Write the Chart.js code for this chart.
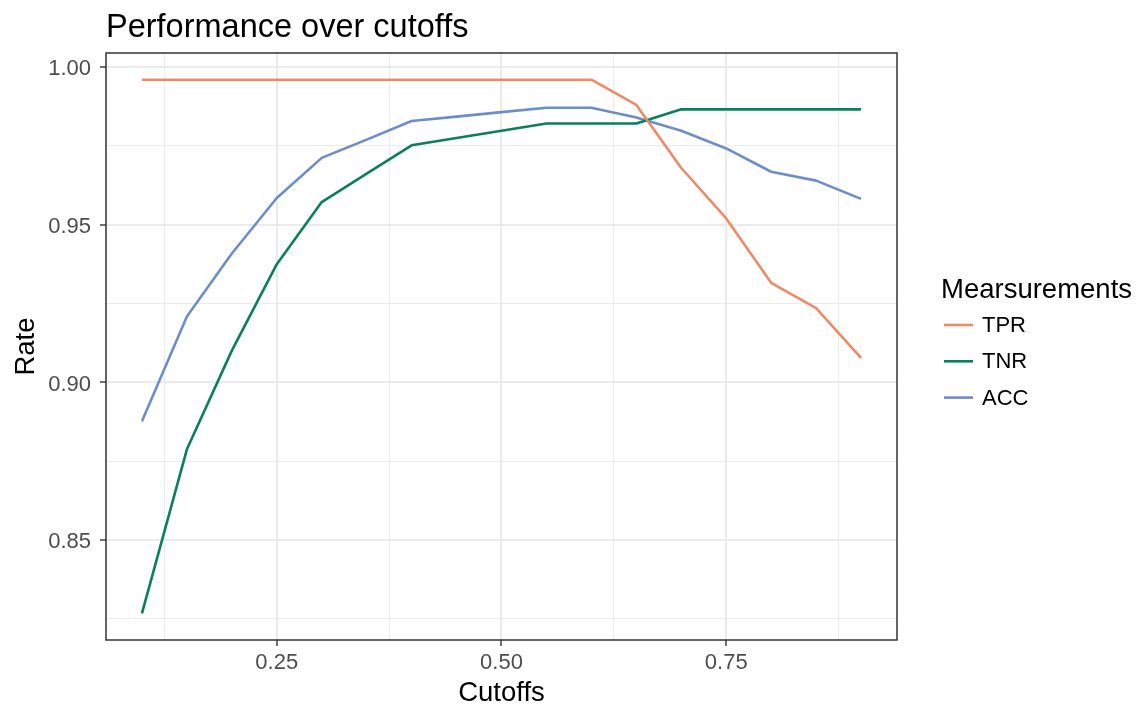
<!DOCTYPE html>
<html>
<head>
<meta charset="utf-8">
<title>Performance over cutoffs</title>
<script src="https://cdn.jsdelivr.net/npm/chart.js@4/dist/chart.umd.min.js"></script>
<style>
  html, body { margin: 0; padding: 0; background: #ffffff; }
  #wrap { width: 1142px; height: 708px; position: relative; }
  canvas { display: block; }
</style>
</head>
<body>
<div id="wrap"><canvas id="chart" width="1142" height="708"></canvas></div>
<script>
// Classification cutoffs and the three rates measured at each one
const cutoffs = [0.10, 0.15, 0.20, 0.25, 0.30, 0.35, 0.40, 0.45, 0.50, 0.55, 0.60, 0.65, 0.70, 0.75, 0.80, 0.85, 0.90];
const tpr = [0.996, 0.996, 0.996, 0.996, 0.996, 0.996, 0.996, 0.996, 0.996, 0.996, 0.996, 0.988, 0.968, 0.952, 0.9316, 0.9236, 0.9078];
const tnr = [0.8268, 0.8788, 0.9101, 0.9375, 0.9572, 0.9662, 0.9752, 0.9775, 0.9798, 0.9821, 0.9821, 0.9821, 0.9866, 0.9866, 0.9866, 0.9866, 0.9866];
const acc = [0.8877, 0.9209, 0.9409, 0.9585, 0.9712, 0.9770, 0.9829, 0.9843, 0.9857, 0.9871, 0.9871, 0.9840, 0.9798, 0.9742, 0.9668, 0.9640, 0.9582];

const seriesNames = ['TPR', 'TNR', 'ACC'];
const seriesColors = ['#EF8A66', '#0A7F5C', '#6B8ECB'];

// Axis breaks: labelled major breaks plus unlabelled minor breaks halfway between
const xMajor = [0.25, 0.50, 0.75];
const xMinor = [0.125, 0.375, 0.625, 0.875];
const yMajor = [0.85, 0.90, 0.95, 1.00];
const yMinor = [0.825, 0.875, 0.925, 0.975];

const chartTitle = 'Performance over cutoffs';
const xTitle = 'Cutoffs';
const yTitle = 'Rate';
const legendTitle = 'Mearsurements';

const FONT = '"Liberation Sans", Arial, Helvetica, sans-serif';

// Range padded by 5% on each side of the data
function paddedRange(values) {
  const lo = Math.min(...values), hi = Math.max(...values);
  const pad = (hi - lo) * 0.05;
  return [lo - pad, hi + pad];
}
const [xMin, xMax] = paddedRange(cutoffs);
const [yMin, yMax] = paddedRange([...tpr, ...tnr, ...acc]);

const seriesValues = [tpr, tnr, acc];
const datasets = seriesNames.map((name, i) => ({
  label: name,
  data: cutoffs.map((c, j) => ({ x: c, y: seriesValues[i][j] })),
  borderColor: seriesColors[i],
  backgroundColor: seriesColors[i],
  borderWidth: 2.6,
  pointRadius: 0,
  pointHoverRadius: 0,
  tension: 0,
  fill: false,
  borderCapStyle: 'butt',
  borderJoinStyle: 'round'
}));

function isMajor(list, v) {
  return list.some(m => Math.abs(m - v) < 1e-9);
}

function breakTicks(major, minor) {
  return [...major, ...minor].sort((a, b) => a - b).map(v => ({ value: v }));
}

const GRID = '#EBEBEB';
const DARK = '#333333';

// Titles, panel border and legend drawn around the plotting panel
const decorations = {
  id: 'decorations',
  afterDatasetsDraw(chart) {
    const { ctx, chartArea: a } = chart;
    ctx.save();
    ctx.strokeStyle = DARK;
    ctx.lineWidth = 1.5;
    ctx.strokeRect(a.left, a.top, a.right - a.left, a.bottom - a.top);
    ctx.restore();
  },
  afterDraw(chart) {
    const { ctx, chartArea: a } = chart;
    ctx.save();
    ctx.fillStyle = '#000000';
    ctx.textBaseline = 'alphabetic';

    // plot title
    ctx.font = '32.5px ' + FONT;
    ctx.textAlign = 'left';
    ctx.fillText(chartTitle, a.left, 37);

    // x axis title
    ctx.font = '27.5px ' + FONT;
    ctx.textAlign = 'center';
    ctx.fillText(xTitle, (a.left + a.right) / 2, 701);

    // y axis title
    ctx.save();
    ctx.translate(34, (a.top + a.bottom) / 2);
    ctx.rotate(-Math.PI / 2);
    ctx.textAlign = 'center';
    ctx.fillText(yTitle, 0, 0);
    ctx.restore();

    // legend
    ctx.textAlign = 'left';
    ctx.font = '27.5px ' + FONT;
    ctx.fillText(legendTitle, 941, 297.5);
    ctx.font = '22px ' + FONT;
    ctx.textBaseline = 'middle';
    chart.data.datasets.forEach((ds, i) => {
      const y = 325 + i * 36.3;
      ctx.strokeStyle = ds.borderColor;
      ctx.lineWidth = 2.6;
      ctx.lineCap = 'butt';
      ctx.beginPath();
      ctx.moveTo(944, y);
      ctx.lineTo(973, y);
      ctx.stroke();
      ctx.fillStyle = '#000000';
      ctx.fillText(ds.label, 982, y + 1);
    });
    ctx.restore();
  }
};

new Chart(document.getElementById('chart'), {
  type: 'line',
  data: { datasets },
  plugins: [decorations],
  options: {
    responsive: false,
    animation: false,
    devicePixelRatio: 1,
    layout: { padding: { top: 53, right: 245, left: 0, bottom: 0 } },
    plugins: {
      legend: { display: false },
      title: { display: false },
      tooltip: { enabled: false }
    },
    scales: {
      x: {
        type: 'linear',
        min: xMin,
        max: xMax,
        afterFit(scale) { scale.height = 68; },
        afterBuildTicks(scale) { scale.ticks = breakTicks(xMajor, xMinor); },
        border: { display: false },
        grid: {
          color: GRID,
          lineWidth: c => isMajor(xMajor, c.tick.value) ? 2 : 1,
          tickLength: 6,
          tickColor: c => isMajor(xMajor, c.tick.value) ? DARK : 'rgba(0,0,0,0)',
          tickWidth: 1.4
        },
        ticks: {
          autoSkip: false,
          maxRotation: 0,
          padding: 4,
          color: '#4D4D4D',
          font: { family: FONT, size: 22 },
          callback: v => isMajor(xMajor, v) ? v.toFixed(2) : ''
        }
      },
      y: {
        type: 'linear',
        min: yMin,
        max: yMax,
        afterFit(scale) { scale.width = 106; },
        afterBuildTicks(scale) { scale.ticks = breakTicks(yMajor, yMinor); },
        border: { display: false },
        grid: {
          color: GRID,
          lineWidth: c => isMajor(yMajor, c.tick.value) ? 2 : 1,
          tickLength: 6,
          tickColor: c => isMajor(yMajor, c.tick.value) ? DARK : 'rgba(0,0,0,0)',
          tickWidth: 1.4
        },
        ticks: {
          autoSkip: false,
          padding: 9,
          labelOffset: 2,
          color: '#4D4D4D',
          font: { family: FONT, size: 22 },
          callback: v => isMajor(yMajor, v) ? v.toFixed(2) : ''
        }
      }
    }
  }
});
</script>
</body>
</html>
